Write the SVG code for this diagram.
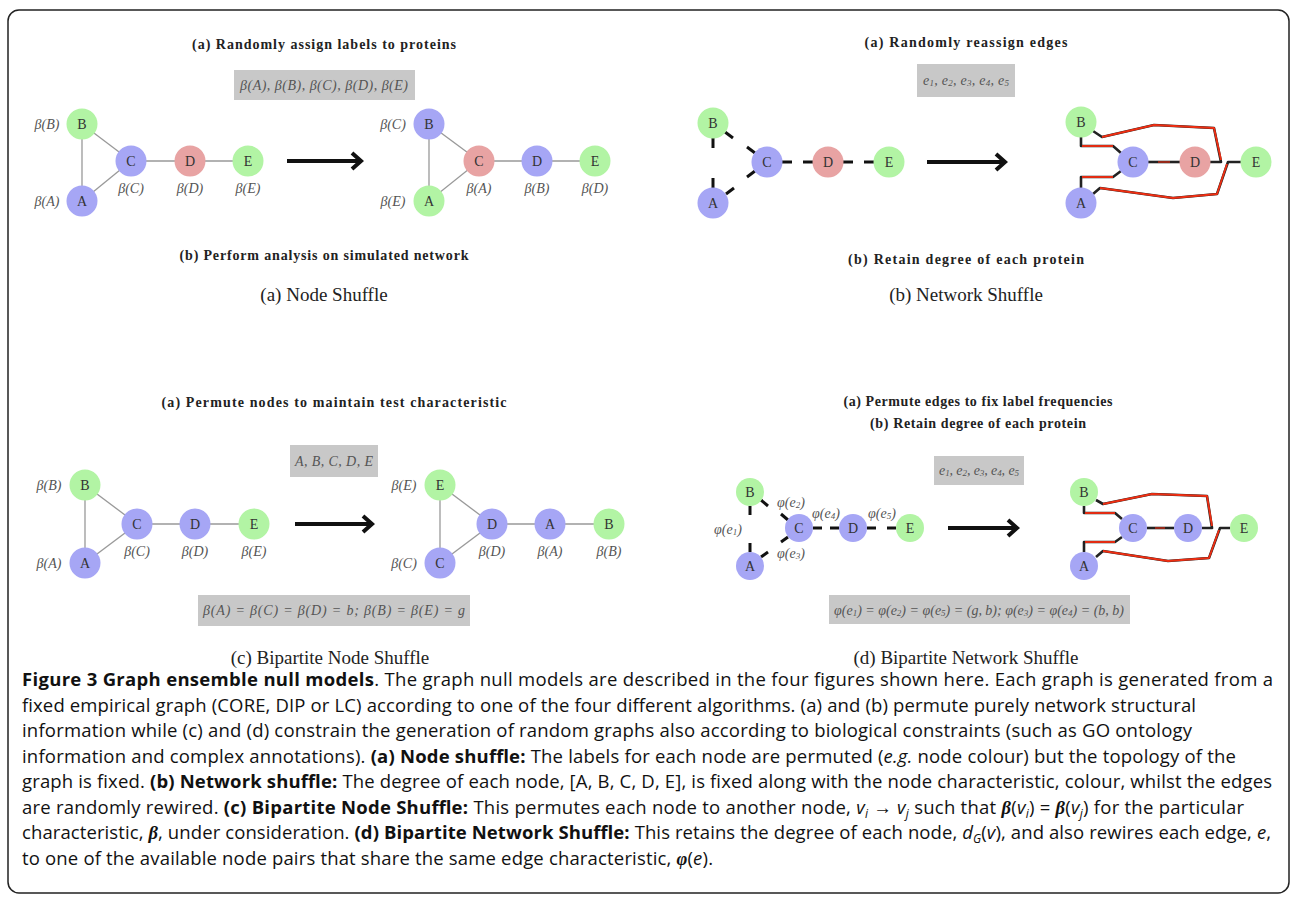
<svg xmlns="http://www.w3.org/2000/svg" width="1293" height="898" viewBox="0 0 1293 898">
<style>
.g{fill:#b2f4a4}.b{fill:#a6a6f5}.r{fill:#e8a3a3}
.nl{font-family:"Liberation Serif",serif;font-size:14px;fill:#333;text-anchor:middle;dominant-baseline:central}
.ml{font-family:"Liberation Serif",serif;font-style:italic;font-size:14px;fill:#555;text-anchor:middle;dominant-baseline:central}
.ttl{font-family:"Liberation Serif",serif;font-weight:bold;font-size:14px;fill:#222;text-anchor:middle;dominant-baseline:central}
.sc{font-family:"Liberation Serif",serif;font-size:19px;fill:#222;text-anchor:middle;dominant-baseline:central}
.bx{fill:#c8c8c8}
.bt{font-family:"Liberation Serif",serif;font-style:italic;font-size:14px;fill:#555;text-anchor:middle;dominant-baseline:central}
.e{stroke:#999;stroke-width:1.3}
.s{stroke:#111;stroke-width:3}
.kb{stroke:#222;stroke-width:2.6;fill:none;stroke-linejoin:round}
.kr{stroke:#ee2e12;stroke-width:1.9;fill:none;stroke-linejoin:round}
.ar{stroke:#111;stroke-width:4;fill:none}
.cap{font-family:"Open Sans",sans-serif;font-size:18.5px;fill:#111}
.bd{font-weight:bold}
.it{font-style:italic}
.gk{font-family:"Liberation Serif",serif;font-style:italic;font-weight:bold}
</style>
<rect x="8" y="10" width="1281" height="883" rx="11" fill="#fff" stroke="#222" stroke-width="1.5"/>

<!-- Panel texts -->
<text class="ttl" x="324" y="44" textLength="264">(a) Randomly assign labels to proteins</text>
<rect class="bx" x="234" y="70" width="181" height="30"/>
<text class="bt" x="324" y="85" textLength="168">β(A), β(B), β(C), β(D), β(E)</text>
<text class="ttl" x="324" y="255" textLength="289">(b) Perform analysis on simulated network</text>
<text class="sc" x="324" y="294">(a) Node Shuffle</text>

<text class="ttl" x="966" y="42" textLength="203">(a) Randomly reassign edges</text>
<rect class="bx" x="917" y="64" width="98" height="33"/>
<text class="bt" x="966" y="80" textLength="86">e<tspan font-size="9" dy="3">1</tspan><tspan dy="-3">, e</tspan><tspan font-size="9" dy="3">2</tspan><tspan dy="-3">, e</tspan><tspan font-size="9" dy="3">3</tspan><tspan dy="-3">, e</tspan><tspan font-size="9" dy="3">4</tspan><tspan dy="-3">, e</tspan><tspan font-size="9" dy="3">5</tspan></text>
<text class="ttl" x="966" y="259" textLength="236">(b) Retain degree of each protein</text>
<text class="sc" x="966" y="294">(b) Network Shuffle</text>

<text class="ttl" x="334" y="402" textLength="345">(a) Permute nodes to maintain test characteristic</text>
<rect class="bx" x="290" y="445" width="88" height="32"/>
<text class="bt" x="334" y="461" textLength="78">A, B, C, D, E</text>
<rect class="bx" x="198" y="595" width="272" height="31"/>
<text class="bt" x="334" y="610" textLength="262">β(A) = β(C) = β(D) = b; β(B) = β(E) = g</text>
<text class="sc" x="330" y="657">(c) Bipartite Node Shuffle</text>

<text class="ttl" x="978" y="401" textLength="269">(a) Permute edges to fix label frequencies</text>
<text class="ttl" x="978" y="423" textLength="216">(b) Retain degree of each protein</text>
<rect class="bx" x="934" y="456" width="90" height="29"/>
<text class="bt" x="979" y="470" textLength="80">e<tspan font-size="9" dy="3">1</tspan><tspan dy="-3">, e</tspan><tspan font-size="9" dy="3">2</tspan><tspan dy="-3">, e</tspan><tspan font-size="9" dy="3">3</tspan><tspan dy="-3">, e</tspan><tspan font-size="9" dy="3">4</tspan><tspan dy="-3">, e</tspan><tspan font-size="9" dy="3">5</tspan></text>
<rect class="bx" x="829" y="595" width="301" height="29"/>
<text class="bt" x="979" y="610" textLength="290">φ(e<tspan font-size="9" dy="3">1</tspan><tspan dy="-3">) = φ(e</tspan><tspan font-size="9" dy="3">2</tspan><tspan dy="-3">) = φ(e</tspan><tspan font-size="9" dy="3">5</tspan><tspan dy="-3">) = (g, b); φ(e</tspan><tspan font-size="9" dy="3">3</tspan><tspan dy="-3">) = φ(e</tspan><tspan font-size="9" dy="3">4</tspan><tspan dy="-3">) = (b, b)</tspan></text>
<text class="sc" x="966" y="657">(d) Bipartite Network Shuffle</text>

<g id="connectors">
  <!-- panel a -->
  <line class="e" x1="82" y1="124" x2="82" y2="201"/>
  <line class="e" x1="82" y1="124" x2="131" y2="161"/>
  <line class="e" x1="82" y1="201" x2="131" y2="161"/>
  <line class="e" x1="131" y1="161" x2="248" y2="161"/>
  <line class="e" x1="429" y1="124" x2="429" y2="201"/>
  <line class="e" x1="429" y1="124" x2="479" y2="161"/>
  <line class="e" x1="429" y1="201" x2="479" y2="161"/>
  <line class="e" x1="479" y1="161" x2="595" y2="161"/>
  <line class="ar" x1="287" y1="161" x2="360" y2="161"/>
  <polyline class="ar" points="352,153 361,161 352,169"/>
  <!-- panel b left stubs -->
  <line class="s" x1="713" y1="138" x2="713" y2="148"/>
  <line class="s" x1="713" y1="178" x2="713" y2="188"/>
  <line class="s" x1="725" y1="132" x2="733" y2="138"/>
  <line class="s" x1="747" y1="147" x2="755" y2="153"/>
  <line class="s" x1="726" y1="194" x2="734" y2="188"/>
  <line class="s" x1="747" y1="177" x2="755" y2="171"/>
  <line class="s" x1="782" y1="162" x2="792" y2="162"/>
  <line class="s" x1="803" y1="162" x2="813" y2="162"/>
  <line class="s" x1="843" y1="162" x2="853" y2="162"/>
  <line class="s" x1="864" y1="162" x2="874" y2="162"/>
  <line class="ar" x1="927" y1="162" x2="1004" y2="162"/>
  <polyline class="ar" points="996,154 1005,162 996,170"/>
  <!-- panel b right rewired -->
  <path class="kb" d="M1081,137 L1081,146 L1113,146 L1121,153"/>
  <path class="kr" d="M1082,146 L1113,146"/>
  <path class="kb" d="M1093,131 L1102,137 L1154,125 L1214,128 L1221,162 L1210,162"/>
  <path class="kr" d="M1102,137 L1154,125 L1214,128 L1221,160"/>
  <path class="kb" d="M1081,188 L1081,177 L1113,177 L1121,171"/>
  <path class="kr" d="M1082,177 L1113,177"/>
  <path class="kb" d="M1093,194 L1100,188 L1173,198 L1217,194 L1228,162 L1241,162"/>
  <path class="kr" d="M1100,188 L1173,198 L1217,194 L1227,164"/>
  <path class="kb" d="M1148,162 L1180,162"/>
  <path class="kr" d="M1158,162 L1170,162" opacity="0.6"/>
  <!-- panel c -->
  <line class="e" x1="85" y1="485" x2="85" y2="563"/>
  <line class="e" x1="85" y1="485" x2="137" y2="524"/>
  <line class="e" x1="85" y1="563" x2="137" y2="524"/>
  <line class="e" x1="137" y1="524" x2="254" y2="524"/>
  <line class="e" x1="440" y1="485" x2="440" y2="563"/>
  <line class="e" x1="440" y1="485" x2="492" y2="524"/>
  <line class="e" x1="440" y1="563" x2="492" y2="524"/>
  <line class="e" x1="492" y1="524" x2="609" y2="524"/>
  <line class="ar" x1="295" y1="524" x2="371" y2="524"/>
  <polyline class="ar" points="363,516 372,524 363,532"/>
  <!-- panel d left stubs -->
  <line class="s" x1="750" y1="506" x2="750" y2="515"/>
  <line class="s" x1="750" y1="543" x2="750" y2="552"/>
  <line class="s" x1="761" y1="500" x2="768" y2="506"/>
  <line class="s" x1="781" y1="514" x2="788" y2="520"/>
  <line class="s" x1="761" y1="557" x2="768" y2="552"/>
  <line class="s" x1="781" y1="542" x2="788" y2="537"/>
  <line class="s" x1="813" y1="528" x2="822" y2="528"/>
  <line class="s" x1="830" y1="528" x2="839" y2="528"/>
  <line class="s" x1="867" y1="528" x2="876" y2="528"/>
  <line class="s" x1="887" y1="528" x2="896" y2="528"/>
  <line class="ar" x1="948" y1="528" x2="1016" y2="528"/>
  <polyline class="ar" points="1008,520 1017,528 1008,536"/>
  <!-- panel d right rewired -->
  <path class="kb" d="M1084,506 L1084,513 L1115,513 L1122,519"/>
  <path class="kr" d="M1085,513 L1115,513"/>
  <path class="kb" d="M1096,500 L1103,504 L1152,494 L1207,496 L1212,528 L1202,528"/>
  <path class="kr" d="M1103,504 L1152,494 L1207,496 L1212,526"/>
  <path class="kb" d="M1084,552 L1084,542 L1115,542 L1122,537"/>
  <path class="kr" d="M1085,542 L1115,542"/>
  <path class="kb" d="M1096,557 L1103,551 L1168,561 L1209,558 L1220,528 L1230,528"/>
  <path class="kr" d="M1103,551 L1168,561 L1209,558 L1219,530"/>
  <path class="kb" d="M1147,528 L1174,528"/>
  <path class="kr" d="M1155,528 L1165,528" opacity="0.6"/>
</g>

<!-- Panel a left -->
<g id="a1-B"><circle class="g" cx="82" cy="124" r="15.5"/><text class="nl" x="82" y="124">B</text><text class="ml" x="47" y="124">β(B)</text></g>
<g id="a1-A"><circle class="b" cx="82" cy="201" r="15.5"/><text class="nl" x="82" y="201">A</text><text class="ml" x="47" y="201">β(A)</text></g>
<g id="a1-C"><circle class="b" cx="131" cy="161" r="15.5"/><text class="nl" x="131" y="161">C</text><text class="ml" x="131" y="188">β(C)</text></g>
<g id="a1-D"><circle class="r" cx="190" cy="161" r="15.5"/><text class="nl" x="190" y="161">D</text><text class="ml" x="190" y="188">β(D)</text></g>
<g id="a1-E"><circle class="g" cx="248" cy="161" r="15.5"/><text class="nl" x="248" y="161">E</text><text class="ml" x="248" y="188">β(E)</text></g>
<!-- Panel a right -->
<g id="a2-B"><circle class="b" cx="429" cy="124" r="15.5"/><text class="nl" x="429" y="124">B</text><text class="ml" x="393" y="124">β(C)</text></g>
<g id="a2-A"><circle class="g" cx="429" cy="201" r="15.5"/><text class="nl" x="429" y="201">A</text><text class="ml" x="393" y="201">β(E)</text></g>
<g id="a2-C"><circle class="r" cx="479" cy="161" r="15.5"/><text class="nl" x="479" y="161">C</text><text class="ml" x="479" y="188">β(A)</text></g>
<g id="a2-D"><circle class="b" cx="537" cy="161" r="15.5"/><text class="nl" x="537" y="161">D</text><text class="ml" x="537" y="188">β(B)</text></g>
<g id="a2-E"><circle class="g" cx="595" cy="161" r="15.5"/><text class="nl" x="595" y="161">E</text><text class="ml" x="595" y="188">β(D)</text></g>

<!-- Panel b left -->
<g id="b1-B"><circle class="g" cx="713" cy="123" r="15.5"/><text class="nl" x="713" y="123">B</text></g>
<g id="b1-A"><circle class="b" cx="713" cy="203" r="15.5"/><text class="nl" x="713" y="203">A</text></g>
<g id="b1-C"><circle class="b" cx="767" cy="162" r="15.5"/><text class="nl" x="767" y="162">C</text></g>
<g id="b1-D"><circle class="r" cx="828" cy="162" r="15.5"/><text class="nl" x="828" y="162">D</text></g>
<g id="b1-E"><circle class="g" cx="889" cy="162" r="15.5"/><text class="nl" x="889" y="162">E</text></g>
<!-- Panel b right -->
<g id="b2-B"><circle class="g" cx="1081" cy="122" r="15.5"/><text class="nl" x="1081" y="122">B</text></g>
<g id="b2-A"><circle class="b" cx="1081" cy="203" r="15.5"/><text class="nl" x="1081" y="203">A</text></g>
<g id="b2-C"><circle class="b" cx="1133" cy="162" r="15.5"/><text class="nl" x="1133" y="162">C</text></g>
<g id="b2-D"><circle class="r" cx="1195" cy="162" r="15.5"/><text class="nl" x="1195" y="162">D</text></g>
<g id="b2-E"><circle class="g" cx="1256" cy="162" r="15.5"/><text class="nl" x="1256" y="162">E</text></g>

<!-- Panel c left -->
<g id="c1-B"><circle class="g" cx="85" cy="485" r="15.5"/><text class="nl" x="85" y="485">B</text><text class="ml" x="49" y="485">β(B)</text></g>
<g id="c1-A"><circle class="b" cx="85" cy="563" r="15.5"/><text class="nl" x="85" y="563">A</text><text class="ml" x="49" y="563">β(A)</text></g>
<g id="c1-C"><circle class="b" cx="137" cy="524" r="15.5"/><text class="nl" x="137" y="524">C</text><text class="ml" x="137" y="551">β(C)</text></g>
<g id="c1-D"><circle class="b" cx="195" cy="524" r="15.5"/><text class="nl" x="195" y="524">D</text><text class="ml" x="195" y="551">β(D)</text></g>
<g id="c1-E"><circle class="g" cx="254" cy="524" r="15.5"/><text class="nl" x="254" y="524">E</text><text class="ml" x="254" y="551">β(E)</text></g>
<!-- Panel c right -->
<g id="c2-E"><circle class="g" cx="440" cy="485" r="15.5"/><text class="nl" x="440" y="485">E</text><text class="ml" x="404" y="485">β(E)</text></g>
<g id="c2-C"><circle class="b" cx="440" cy="563" r="15.5"/><text class="nl" x="440" y="563">C</text><text class="ml" x="404" y="563">β(C)</text></g>
<g id="c2-D"><circle class="b" cx="492" cy="524" r="15.5"/><text class="nl" x="492" y="524">D</text><text class="ml" x="492" y="551">β(D)</text></g>
<g id="c2-A"><circle class="b" cx="550" cy="524" r="15.5"/><text class="nl" x="550" y="524">A</text><text class="ml" x="550" y="551">β(A)</text></g>
<g id="c2-B"><circle class="g" cx="609" cy="524" r="15.5"/><text class="nl" x="609" y="524">B</text><text class="ml" x="609" y="551">β(B)</text></g>

<!-- Panel d left -->
<g id="d1-B"><circle class="g" cx="750" cy="492" r="14"/><text class="nl" x="750" y="492">B</text></g>
<g id="d1-A"><circle class="b" cx="750" cy="566" r="14"/><text class="nl" x="750" y="566">A</text></g>
<g id="d1-C"><circle class="b" cx="799" cy="528" r="14"/><text class="nl" x="799" y="528">C</text></g>
<g id="d1-D"><circle class="b" cx="853" cy="528" r="14"/><text class="nl" x="853" y="528">D</text></g>
<g id="d1-E"><circle class="g" cx="910" cy="528" r="14"/><text class="nl" x="910" y="528">E</text></g>
<g id="d1-labels">
  <text class="ml" x="728" y="529">φ(e<tspan font-size="9" dy="3">1</tspan><tspan dy="-3">)</tspan></text>
  <text class="ml" x="791" y="502">φ(e<tspan font-size="9" dy="3">2</tspan><tspan dy="-3">)</tspan></text>
  <text class="ml" x="791" y="553">φ(e<tspan font-size="9" dy="3">3</tspan><tspan dy="-3">)</tspan></text>
  <text class="ml" x="826" y="513">φ(e<tspan font-size="9" dy="3">4</tspan><tspan dy="-3">)</tspan></text>
  <text class="ml" x="882" y="513">φ(e<tspan font-size="9" dy="3">5</tspan><tspan dy="-3">)</tspan></text>
</g>
<!-- Panel d right -->
<g id="d2-B"><circle class="g" cx="1084" cy="492" r="14"/><text class="nl" x="1084" y="492">B</text></g>
<g id="d2-A"><circle class="b" cx="1084" cy="566" r="14"/><text class="nl" x="1084" y="566">A</text></g>
<g id="d2-C"><circle class="b" cx="1133" cy="528" r="14"/><text class="nl" x="1133" y="528">C</text></g>
<g id="d2-D"><circle class="b" cx="1188" cy="528" r="14"/><text class="nl" x="1188" y="528">D</text></g>
<g id="d2-E"><circle class="g" cx="1244" cy="528" r="14"/><text class="nl" x="1244" y="528">E</text></g>

<!-- Caption -->
<g id="caption" class="cap">
<text x="22" y="686" textLength="1251"><tspan class="bd">Figure 3 Graph ensemble null models</tspan>. The graph null models are described in the four figures shown here. Each graph is generated from a</text>
<text x="22" y="711.5" textLength="1174">fixed empirical graph (CORE, DIP or LC) according to one of the four different algorithms. (a) and (b) permute purely network structural</text>
<text x="22" y="737" textLength="1170">information while (c) and (d) constrain the generation of random graphs also according to biological constraints (such as GO ontology</text>
<text x="22" y="762.5" textLength="1214">information and complex annotations). <tspan class="bd">(a) Node shuffle:</tspan> The labels for each node are permuted (<tspan class="it">e.g.</tspan> node colour) but the topology of the</text>
<text x="22" y="788" textLength="1250">graph is fixed. <tspan class="bd">(b) Network shuffle:</tspan> The degree of each node, [A, B, C, D, E], is fixed along with the node characteristic, colour, whilst the edges</text>
<text x="22" y="813.5" textLength="1222">are randomly rewired. <tspan class="bd">(c) Bipartite Node Shuffle:</tspan> This permutes each node to another node, <tspan class="it">v</tspan><tspan class="it" font-size="12" baseline-shift="-4">i</tspan> → <tspan class="it">v</tspan><tspan class="it" font-size="12" baseline-shift="-4">j</tspan> such that <tspan class="gk">β</tspan>(<tspan class="it">v</tspan><tspan class="it" font-size="12" baseline-shift="-4">i</tspan>) = <tspan class="gk">β</tspan>(<tspan class="it">v</tspan><tspan class="it" font-size="12" baseline-shift="-4">j</tspan>) for the particular</text>
<text x="22" y="839" textLength="1249">characteristic, <tspan class="gk">β</tspan>, under consideration. <tspan class="bd">(d) Bipartite Network Shuffle:</tspan> This retains the degree of each node, <tspan class="it">d</tspan><tspan class="it" font-size="12" baseline-shift="-4">G</tspan>(<tspan class="it">v</tspan>), and also rewires each edge, <tspan class="it">e</tspan>,</text>
<text x="22" y="864.5" textLength="691">to one of the available node pairs that share the same edge characteristic, <tspan class="gk">φ</tspan>(<tspan class="it">e</tspan>).</text>
</g>
</svg>
